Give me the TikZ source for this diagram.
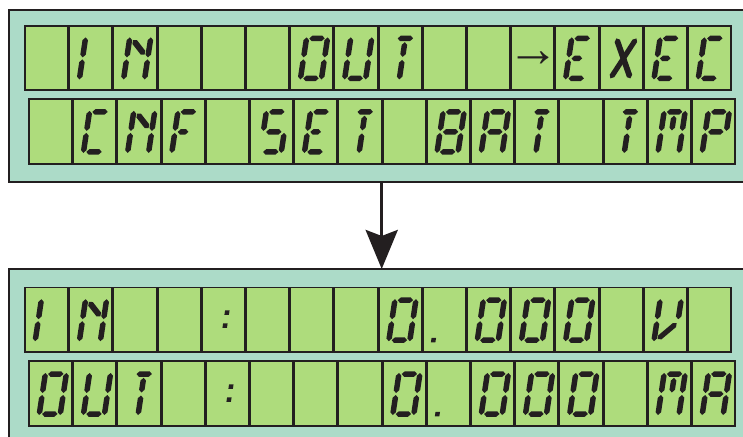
\documentclass[tikz,border=0pt]{standalone}
\usepackage{fontspec}
\newfontfamily\arrfont{Liberation Serif}
\usetikzlibrary{arrows.meta}
\definecolor{panelc}{RGB}{172,219,200}
\definecolor{cellc}{RGB}{174,220,124}
\definecolor{ink}{RGB}{35,31,32}

\def\lcdh{2.75}
\newcommand\lcdseg[4]{%
 \pgfmathsetmacro\lcddx{(#3)-(#1)}%
 \pgfmathsetmacro\lcddy{(#4)-(#2)}%
 \pgfmathsetmacro\lcdlen{veclen(\lcddx,\lcddy)}%
 \pgfmathsetmacro\lcdux{\lcdh*\lcddx/\lcdlen}%
 \pgfmathsetmacro\lcduy{\lcdh*\lcddy/\lcdlen}%
 \fill[ink] (#1,#2) -- ({(#1)+(\lcdux)-(\lcduy)},{(#2)+(\lcduy)+(\lcdux)})
   -- ({(#3)-(\lcdux)-(\lcduy)},{(#4)-(\lcduy)+(\lcdux)}) -- (#3,#4)
   -- ({(#3)-(\lcdux)+(\lcduy)},{(#4)-(\lcduy)-(\lcdux)})
   -- ({(#1)+(\lcdux)+(\lcduy)},{(#2)+(\lcduy)-(\lcdux)}) -- cycle;}

\newcommand\segTop{\lcdseg{2.8}{40}{18.2}{40}}
\newcommand\segMid{\lcdseg{2.8}{20}{18.2}{20}}
\newcommand\segMidP{\lcdseg{2.8}{20}{13.5}{20}}
\newcommand\segBot{\lcdseg{2.8}{0}{18.2}{0}}
\newcommand\segUL{\lcdseg{0}{21}{0}{41}}
\newcommand\segLL{\lcdseg{0}{-1}{0}{19}}
\newcommand\segUR{\lcdseg{21}{21}{21}{41}}
\newcommand\segLR{\lcdseg{21}{-1}{21}{19}}
\newcommand\segCU{\lcdseg{10.5}{21.5}{10.5}{36.2}}
\newcommand\segCL{\lcdseg{10.5}{-1}{10.5}{18.5}}

\newcommand\lcdnone{}
\newcommand\lcdI{\segUL\segLL}
\newcommand\lcdN{\segUL\segLL\segUR\segLR\lcdseg{3.7}{38.3}{17.3}{23.7}}
\newcommand\lcdO{\segTop\segUL\segLL\segUR\segLR\segBot}
\newcommand\lcdU{\segUL\segLL\segUR\segLR\segBot}
\newcommand\lcdT{\segTop\segCU\segCL}
\newcommand\lcdE{\segTop\segUL\segLL\segMidP\segBot}
\newcommand\lcdX{\lcdseg{0.5}{40}{20.5}{0}\lcdseg{20.5}{40}{0.5}{0}}
\newcommand\lcdC{\segTop\segUL\segLL\segBot}
\newcommand\lcdF{\segTop\segUL\segLL\segMidP}
\newcommand\lcdS{\segTop\segUL\segMid\segLR\segBot}
\newcommand\lcdB{\segTop\segUL\segLL\segUR\segLR\segMid\segBot}
\newcommand\lcdA{\segTop\segUL\segLL\segUR\segLR\segMid}
\newcommand\lcdM{\segTop\segUL\segLL\segUR\segLR\segCU}
\newcommand\lcdP{\segTop\segUL\segLL\segUR\segMid}
\newcommand\lcdV{\segUL\segLL\segUR\lcdseg{20}{17}{3.4}{1}}
\newcommand\lcdcolon{\fill[ink] (8.5,25.25) rectangle ++(4.5,4.5); \fill[ink] (8.5,12.25) rectangle ++(4.5,4.5);}
\newcommand\lcddot{\fill[ink] (-1.9,-2.25) rectangle ++(4.5,4.5);}
\newcommand\lcdarrow{\node[inner sep=0pt, text=ink, font=\arrfont\fontsize{52}{52}\selectfont] (arrowsym) at (9.5,19.3) {→};}

\newcommand\lcdcell[3]{%
 \draw[cellbox] (#1,#2) rectangle ++(43,64.5);
 \begin{scope}[shift={({#1+10.3},{#2+11.8})},xslant=0.15]#3\end{scope}}

\newcommand\lcdrow[3]{%
 \foreach \g [count=\i from 0] in {#3}{%
   \pgfmathsetmacro\cx{#1+\i*44.2}%
   \lcdcell{\cx}{#2}{\g}}}

\begin{document}
\begin{tikzpicture}[x=1pt,y=1pt,
  panel/.style={rectangle, draw=ink, fill=panelc, line width=2pt, outer sep=0pt, inner sep=0pt},
  cellbox/.style={draw=ink, fill=cellc, line width=1.8pt},
  bigarrow/.style={draw=ink, line width=3.5pt, -{Stealth[length=39pt,width=32pt,inset=6pt]}}]
\useasboundingbox (0,0) rectangle (743,436);
\fill[white] (0,0) rectangle (743,436);
\clip (0,0) rectangle (743,436);

\node[panel, minimum width=800pt, minimum height=172pt, anchor=north west] (toppanel) at (9,426) {};
\node[panel, minimum width=800pt, minimum height=200pt, anchor=north west] (botpanel) at (9,167) {};

\lcdrow{25}{345.8}{\lcdnone,\lcdI,\lcdN,\lcdnone,\lcdnone,\lcdnone,\lcdO,\lcdU,\lcdT,\lcdnone,\lcdnone,\lcdarrow,\lcdE,\lcdX,\lcdE,\lcdC}
\lcdrow{29}{272.3}{\lcdnone,\lcdC,\lcdN,\lcdF,\lcdnone,\lcdS,\lcdE,\lcdT,\lcdnone,\lcdB,\lcdA,\lcdT,\lcdnone,\lcdT,\lcdM,\lcdP}
\lcdrow{25}{84}{\lcdI,\lcdN,\lcdnone,\lcdnone,\lcdcolon,\lcdnone,\lcdnone,\lcdnone,\lcdO,\lcddot,\lcdO,\lcdO,\lcdO,\lcdnone,\lcdV,\lcdnone}
\lcdrow{29}{10.2}{\lcdO,\lcdU,\lcdT,\lcdnone,\lcdcolon,\lcdnone,\lcdnone,\lcdnone,\lcdO,\lcddot,\lcdO,\lcdO,\lcdO,\lcdnone,\lcdM,\lcdA}

\coordinate (ax) at (381.7,0);
\draw[bigarrow] (toppanel.south -| ax) -- (botpanel.north -| ax);
\end{tikzpicture}
\end{document}
